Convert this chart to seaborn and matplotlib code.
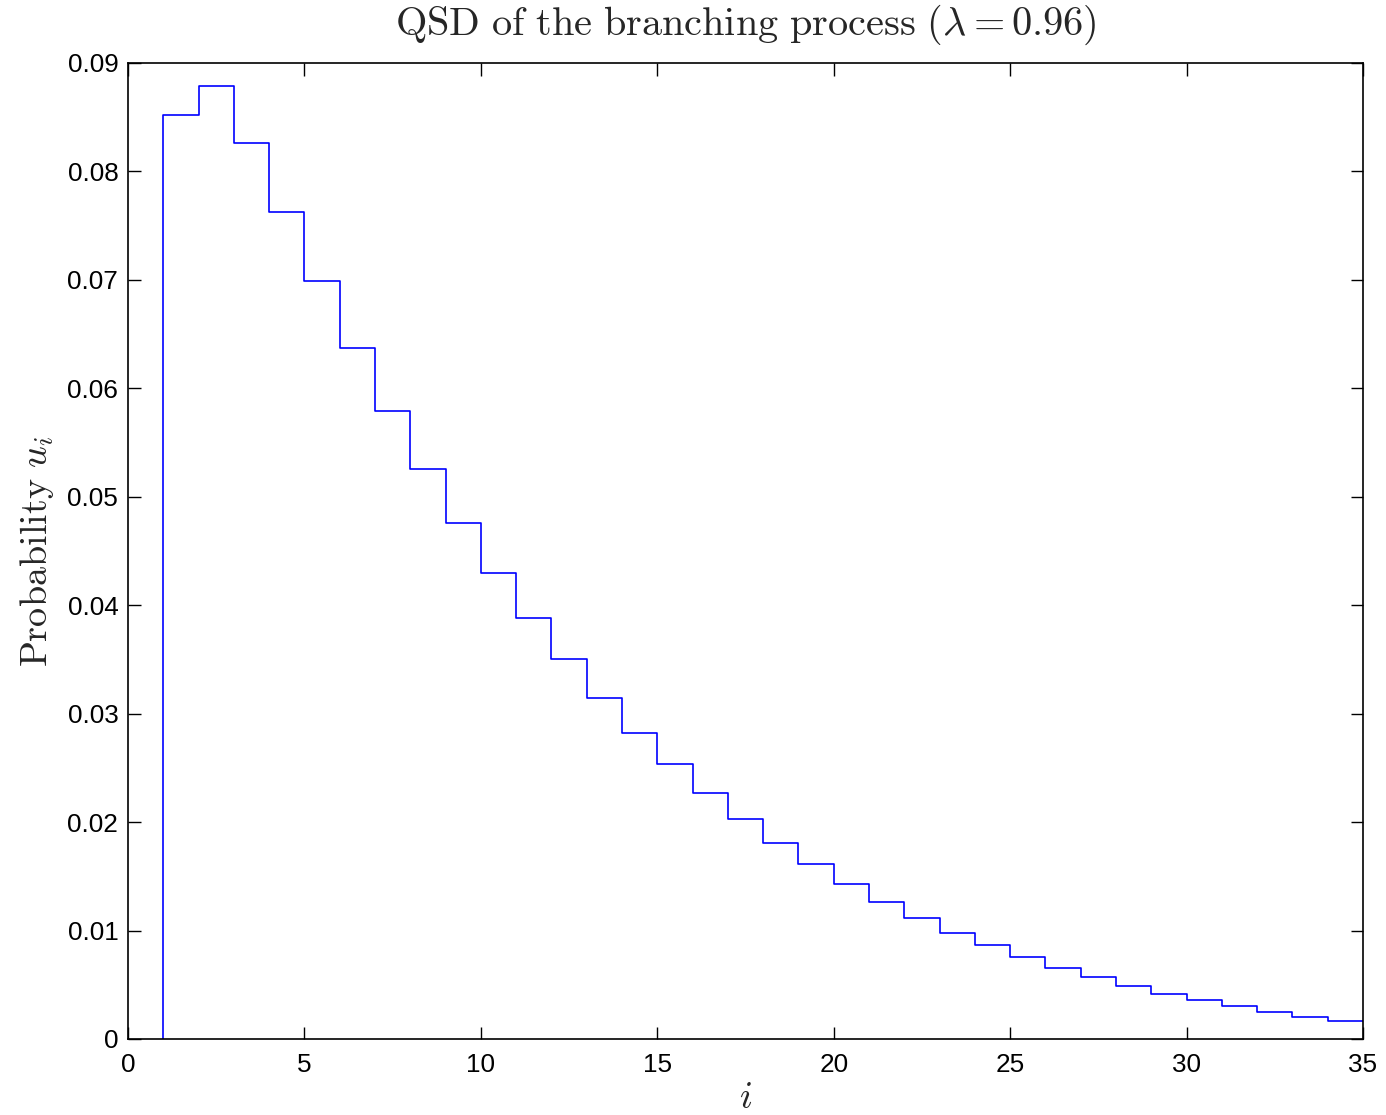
import numpy as np
import pandas as pd
import matplotlib
matplotlib.use("Agg")
import matplotlib.pyplot as plt
import seaborn as sns

# QSD probabilities u_i for states i = 1..34 (each step spans [i, i+1])
states = np.arange(1, 35)
u = [0.0852, 0.0879, 0.0826, 0.0763, 0.0699, 0.0637, 0.0579, 0.0526, 0.0476,
     0.0430, 0.0388, 0.0350, 0.0314, 0.0282, 0.0254, 0.0227, 0.0203, 0.0181,
     0.0161, 0.0143, 0.0126, 0.0112, 0.0098, 0.0087, 0.0076, 0.0065, 0.0057,
     0.0049, 0.0041, 0.0036, 0.0030, 0.0025, 0.0020, 0.0017]
xticks = [0, 5, 10, 15, 20, 25, 30, 35]
yticks = [0, 0.01, 0.02, 0.03, 0.04, 0.05, 0.06, 0.07, 0.08, 0.09]
ytick_labels = ["0", "0.01", "0.02", "0.03", "0.04", "0.05", "0.06", "0.07", "0.08", "0.09"]

sns.set_style("ticks")
plt.rcParams["font.family"] = ["Liberation Sans", "DejaVu Sans"]
plt.rcParams["mathtext.fontset"] = "cm"

# stair outline: rise from zero at the first state, hold the last value to the next edge
xs = np.r_[states[0], states, states[-1] + 1]
ys = np.r_[0.0, u, u[-1]]
df = pd.DataFrame({"i": xs, "u": ys})

fig = plt.figure(figsize=(13.86, 11.15), dpi=100)
ax = fig.add_axes([0.0924, 0.0682, 0.891, 0.8753])
sns.lineplot(data=df, x="i", y="u", ax=ax, sort=False, estimator=None,
             drawstyle="steps-post", color="#0000ff", linewidth=1.2)

ax.set_xlim(0, 35)
ax.set_ylim(0, 0.09)
ax.set_xticks(xticks)
ax.set_xticklabels([str(t) for t in xticks])
ax.set_yticks(yticks)
ax.set_yticklabels(ytick_labels)
ax.tick_params(axis="both", direction="in", length=9, width=1.0, labelsize=18.8,
               top=True, right=True, colors="black")
ax.tick_params(axis="x", pad=10)
ax.tick_params(axis="y", pad=7)
for s in ax.spines.values():
    s.set_linewidth(1.2)
    s.set_color("black")
    s.set_visible(True)

ax.set_title(r"$\mathrm{QSD\ of\ the\ branching\ process}\ (\lambda = 0.96)$",
             fontsize=29, pad=20)
ax.set_xlabel(r"$i$", fontsize=27, labelpad=2)
ax.set_ylabel(r"$\mathrm{Probability}\ u_i$", fontsize=27.5, labelpad=8)

fig.savefig("out.png", dpi=100, facecolor="white")
